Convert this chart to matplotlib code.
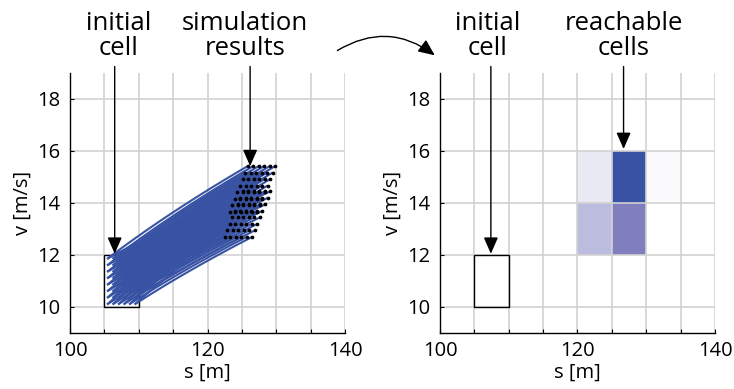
import numpy as np
import matplotlib
matplotlib.use("Agg")
import matplotlib.pyplot as plt
from matplotlib.colors import LinearSegmentedColormap
from matplotlib.patches import Rectangle, FancyArrowPatch

plt.rcParams['font.family'] = ['Open Sans', 'DejaVu Sans']

# Initial cell and sampled initial states
cell_s = [105, 110]
cell_v = [10, 12]
s0_samples = [105.4, 106.2, 107.0, 107.8, 108.6, 109.4]
v0_samples = [10.1, 10.35, 10.6, 10.85, 11.1, 11.35, 11.6, 11.85]
accelerations = [1.73, 2.38]
horizon = 1.5

# Discretisation and reachable-cell occupancy
s_edges = [100, 105, 110, 115, 120, 125, 130, 135, 140]
v_edges = [10, 12, 14, 16, 18]
reach_s = [120, 125, 130, 120, 125]
reach_v = [14, 14, 14, 12, 12]
reach_prob = [0.10, 1.00, 0.02, 0.30, 0.55]

blue = '#3953a4'
grid_col = '#d2d2d2'

fig = plt.figure(figsize=(7.34, 3.89), dpi=100)
W, H = 734, 389
ax1 = fig.add_axes([70 / W, 1 - 333 / H, 275 / W, 260 / H])
ax2 = fig.add_axes([440 / W, 1 - 333 / H, 275 / W, 260 / H])

tick_fs = 14.5
label_fs = 14.5
ann_fs = 18.5


def style(ax):
    ax.set_xlim(100, 140)
    ax.set_ylim(9, 19)
    ax.set_xticks([100, 120, 140])
    ax.set_xticks(s_edges, minor=True)
    ax.set_yticks([10, 12, 14, 16, 18])
    ax.grid(True, which='both', color=grid_col, lw=1.2)
    ax.set_axisbelow(True)
    for sp in ['top', 'right']:
        ax.spines[sp].set_visible(False)
    for sp in ['left', 'bottom']:
        ax.spines[sp].set_linewidth(1.0)
    ax.tick_params(which='both', direction='in', length=3, width=0.8,
                   labelsize=tick_fs)
    ax.tick_params(axis='x', pad=6)
    ax.tick_params(axis='y', pad=7)
    ax.set_xlabel('s [m]', fontsize=label_fs, labelpad=1)
    ax.set_ylabel('v [m/s]', fontsize=label_fs, labelpad=3)
    ax.add_patch(Rectangle((cell_s[0], cell_v[0]), cell_s[1] - cell_s[0],
                           cell_v[1] - cell_v[0], fill=False, ec='k',
                           lw=1.0, zorder=1.8))


def label_arrow(ax, x_txt, x_arr, y_tip, text):
    ax.text(x_txt, 19.45, text, ha='center', va='bottom', fontsize=ann_fs,
            linespacing=1.0, clip_on=False)
    ax.annotate('', xy=(x_arr, y_tip), xytext=(x_arr, 19.25),
                xycoords='data', annotation_clip=False,
                arrowprops=dict(arrowstyle='-|>,head_length=0.5,head_width=0.22',
                                mutation_scale=20, lw=1.0, color='k',
                                shrinkA=0, shrinkB=0), zorder=5)


# Left: simulated trajectories under constant acceleration
style(ax1)
t = np.linspace(0, horizon, 40)
ends_s, ends_v = [], []
for a in accelerations:
    for s0 in s0_samples:
        for v0 in v0_samples:
            s = s0 + v0 * t + 0.5 * a * t ** 2
            v = v0 + a * t
            ax1.plot(s, v, color=blue, lw=1.5, zorder=2, solid_capstyle='butt')
            ends_s.append(s[-1])
            ends_v.append(v[-1])
ax1.plot(ends_s, ends_v, 'o', color='k', ms=2.7, mec='none', zorder=3)
label_arrow(ax1, 107.1, 106.5, 12.05, 'initial\ncell')
label_arrow(ax1, 125.5, 126.2, 15.42, 'simulation\nresults')

# Right: reachable cells shaded by occupancy
style(ax2)
occ = np.zeros((len(v_edges) - 1, len(s_edges) - 1))
for s, v, p in zip(reach_s, reach_v, reach_prob):
    occ[v_edges.index(v), s_edges.index(s)] = p
occ = np.ma.masked_equal(occ, 0)
cmap = LinearSegmentedColormap.from_list(
    'reach', [(0, '#ffffff'), (0.3, '#bcbcde'), (0.55, '#807ebe'), (1.0, blue)])
ax2.pcolormesh(s_edges, v_edges, occ, cmap=cmap, vmin=0, vmax=1, zorder=0.3)
label_arrow(ax2, 106.9, 107.4, 12.05, 'initial\ncell')
label_arrow(ax2, 126.7, 126.7, 16.08, 'reachable\ncells')

# Curved arrow linking both panels
fig.patches.append(FancyArrowPatch(
    (335, H - 52), (437, H - 57), transform=None,
    connectionstyle='arc3,rad=-0.35',
    arrowstyle='-|>,head_length=0.5,head_width=0.22', mutation_scale=20,
    lw=1.0, color='k'))

fig.savefig('out.png', dpi=100)
